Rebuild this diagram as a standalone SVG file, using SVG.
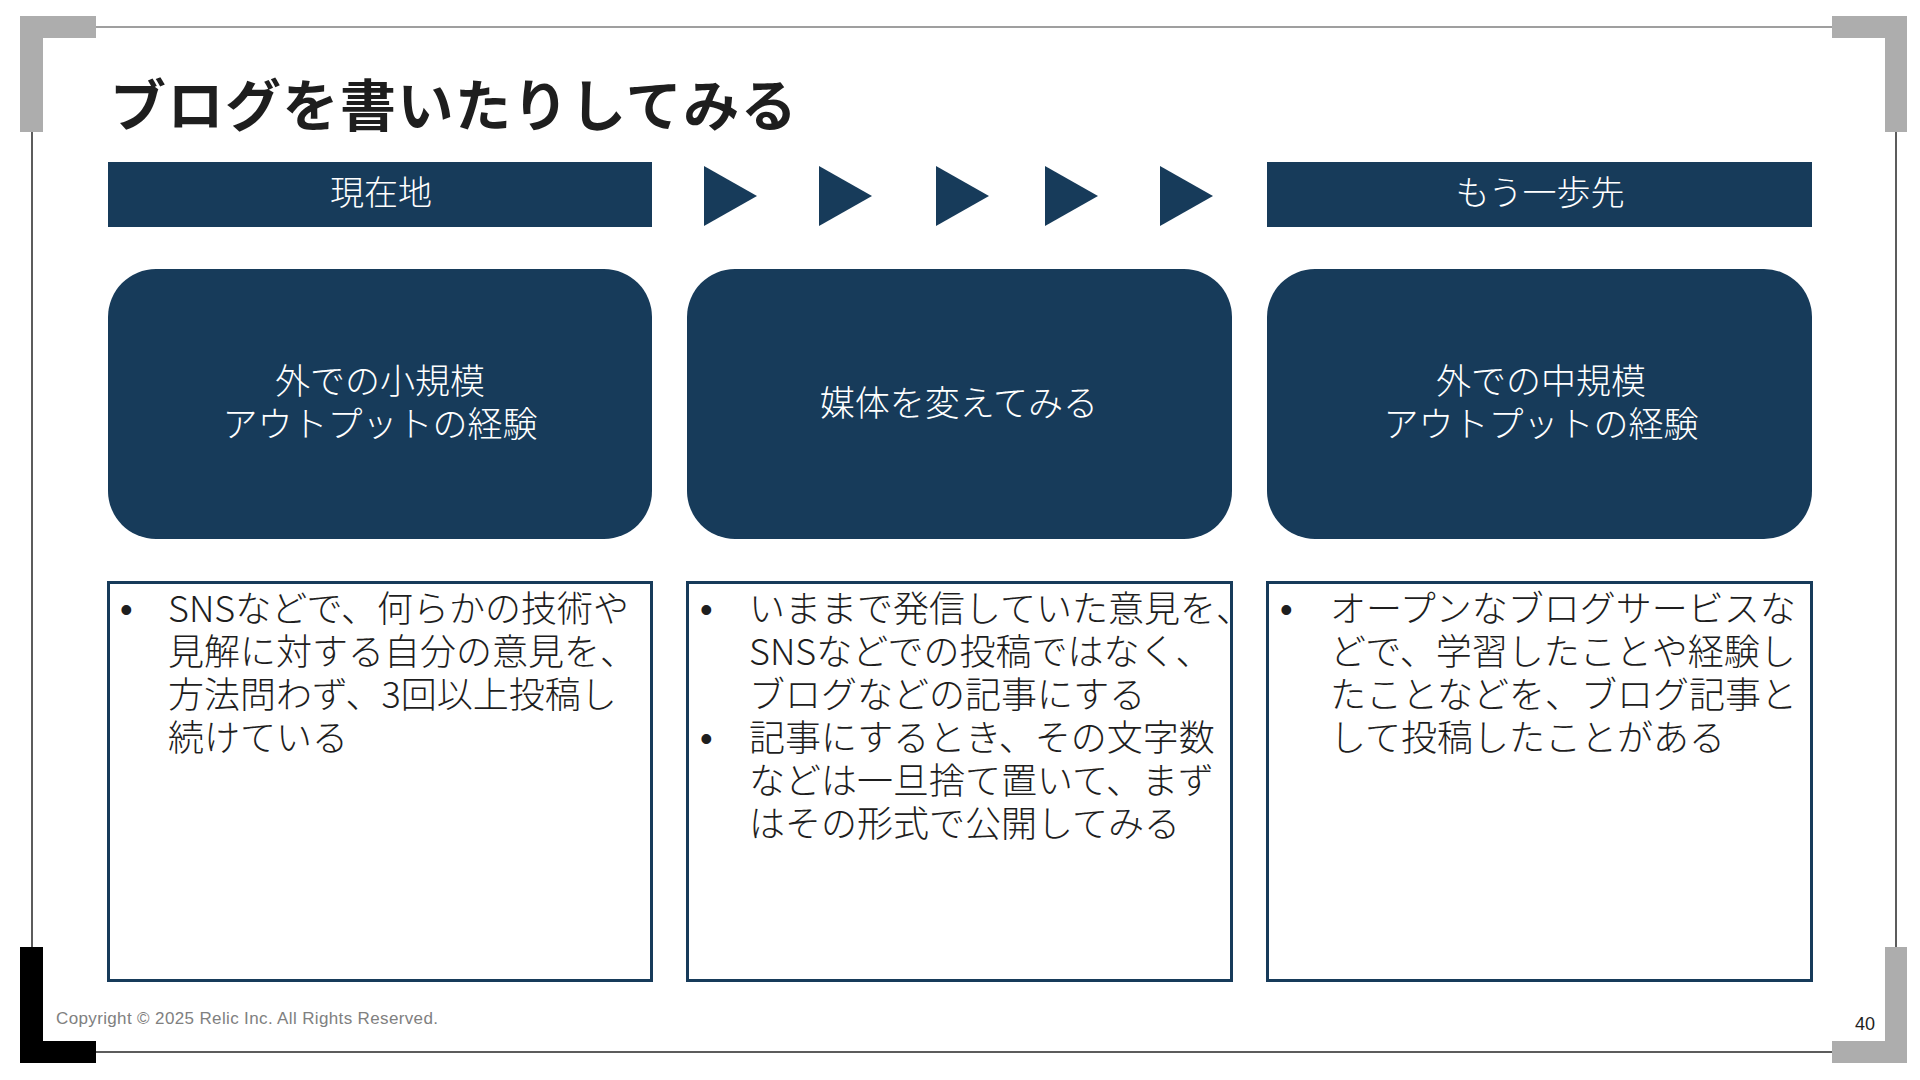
<svg xmlns="http://www.w3.org/2000/svg" width="1920" height="1080" viewBox="0 0 1920 1080">
<style>
.navy{fill:#173B5A}
.hdr{font-family:"Noto Sans CJK JP","Noto Sans",sans-serif;font-size:34px;font-weight:300;fill:#FFFFFF;text-anchor:middle}
.lbl{font-family:"Noto Sans CJK JP","Noto Sans",sans-serif;font-size:35px;font-weight:300;fill:#FFFFFF;text-anchor:middle}
.box{fill:#FFFFFF;stroke:#173B5A;stroke-width:3}
.body{font-family:"Noto Sans CJK JP","Noto Sans",sans-serif;font-size:36px;font-weight:300;fill:#1E1E1E}
.bul{font-family:"Liberation Sans",Arial,sans-serif;font-size:36px;fill:#1E1E1E}
.gray{fill:#ADADAD}
</style>
<rect width="1920" height="1080" fill="#FFFFFF"/>
<g id="frame">
<line x1="96" y1="27" x2="1832" y2="27" stroke="#7F7F7F" stroke-width="1.5"/>
<line x1="96" y1="1052" x2="1832" y2="1052" stroke="#262626" stroke-width="1.5"/>
<line x1="32" y1="132" x2="32" y2="947" stroke="#262626" stroke-width="1.5"/>
<line x1="1896" y1="132" x2="1896" y2="947" stroke="#262626" stroke-width="1.5"/>
<path class="gray" d="M20 16H96V38H43V132H20Z"/>
<path class="gray" d="M1907 16H1832V38H1885V132H1907Z"/>
<path fill="#000000" d="M20 947H43V1041H96V1063H20Z"/>
<path class="gray" d="M1885 947H1907V1063H1832V1041H1885Z"/>
</g>
<g id="title">
<text x="110" y="126" font-family="'Noto Sans CJK JP','Noto Sans',sans-serif" font-size="56" font-weight="700" fill="#1E1E1E" letter-spacing="1.5">ブログを書いたりしてみる</text>
</g>
<g id="header-current">
<rect class="navy" x="108" y="162" width="544" height="65"/>
<text class="hdr" x="381" y="205">現在地</text>
</g>
<g id="header-next">
<rect class="navy" x="1267" y="162" width="545" height="65"/>
<text class="hdr" x="1540" y="205">もう一歩先</text>
</g>
<g id="connectors">
<polygon class="navy" points="704,166 757,196 704,226"/>
<polygon class="navy" points="819,166 872,196 819,226"/>
<polygon class="navy" points="936,166 989,196 936,226"/>
<polygon class="navy" points="1045,166 1098,196 1045,226"/>
<polygon class="navy" points="1160,166 1213,196 1160,226"/>
</g>
<g id="node-small">
<rect class="navy" x="108" y="269" width="544" height="270" rx="48" ry="48"/>
<text class="lbl" x="380" y="394">外での小規模</text>
<text class="lbl" x="380" y="437">アウトプットの経験</text>
</g>
<g id="node-media">
<rect class="navy" x="687" y="269" width="545" height="270" rx="48" ry="48"/>
<text class="lbl" x="959" y="416">媒体を変えてみる</text>
</g>
<g id="node-medium">
<rect class="navy" x="1267" y="269" width="545" height="270" rx="48" ry="48"/>
<text class="lbl" x="1541" y="394">外での中規模</text>
<text class="lbl" x="1541" y="437">アウトプットの経験</text>
</g>
<g id="detail-small">
<rect class="box" x="108.5" y="582.5" width="543" height="398"/>
<text class="bul" x="120" y="622">•</text>
<text class="body" x="168" y="622">SNSなどで、何らかの技術や</text>
<text class="body" x="168" y="665">見解に対する自分の意見を、</text>
<text class="body" x="168" y="708">方法問わず、3回以上投稿し</text>
<text class="body" x="168" y="751">続けている</text>
</g>
<g id="detail-media">
<rect class="box" x="687.5" y="582.5" width="544" height="398"/>
<text class="bul" x="700" y="622">•</text>
<text class="body" x="749" y="622">いままで発信していた意見を、</text>
<text class="body" x="749" y="665">SNSなどでの投稿ではなく、</text>
<text class="body" x="749" y="708">ブログなどの記事にする</text>
<text class="bul" x="700" y="751">•</text>
<text class="body" x="749" y="751">記事にするとき、その文字数</text>
<text class="body" x="749" y="794">などは一旦捨て置いて、まず</text>
<text class="body" x="749" y="837">はその形式で公開してみる</text>
</g>
<g id="detail-medium">
<rect class="box" x="1267.5" y="582.5" width="544" height="398"/>
<text class="bul" x="1280" y="622">•</text>
<text class="body" x="1330" y="622">オープンなブログサービスな</text>
<text class="body" x="1330" y="665">どで、学習したことや経験し</text>
<text class="body" x="1330" y="708">たことなどを、ブログ記事と</text>
<text class="body" x="1330" y="751">して投稿したことがある</text>
</g>
<g id="footer">
<text x="56" y="1024" font-family="'Liberation Sans',Arial,sans-serif" font-size="17" fill="#808080" textLength="382" lengthAdjust="spacing">Copyright © 2025 Relic Inc. All Rights Reserved.</text>
<text x="1855" y="1030" font-family="'Liberation Sans',Arial,sans-serif" font-size="18" fill="#1E1E1E">40</text>
</g>
</svg>
